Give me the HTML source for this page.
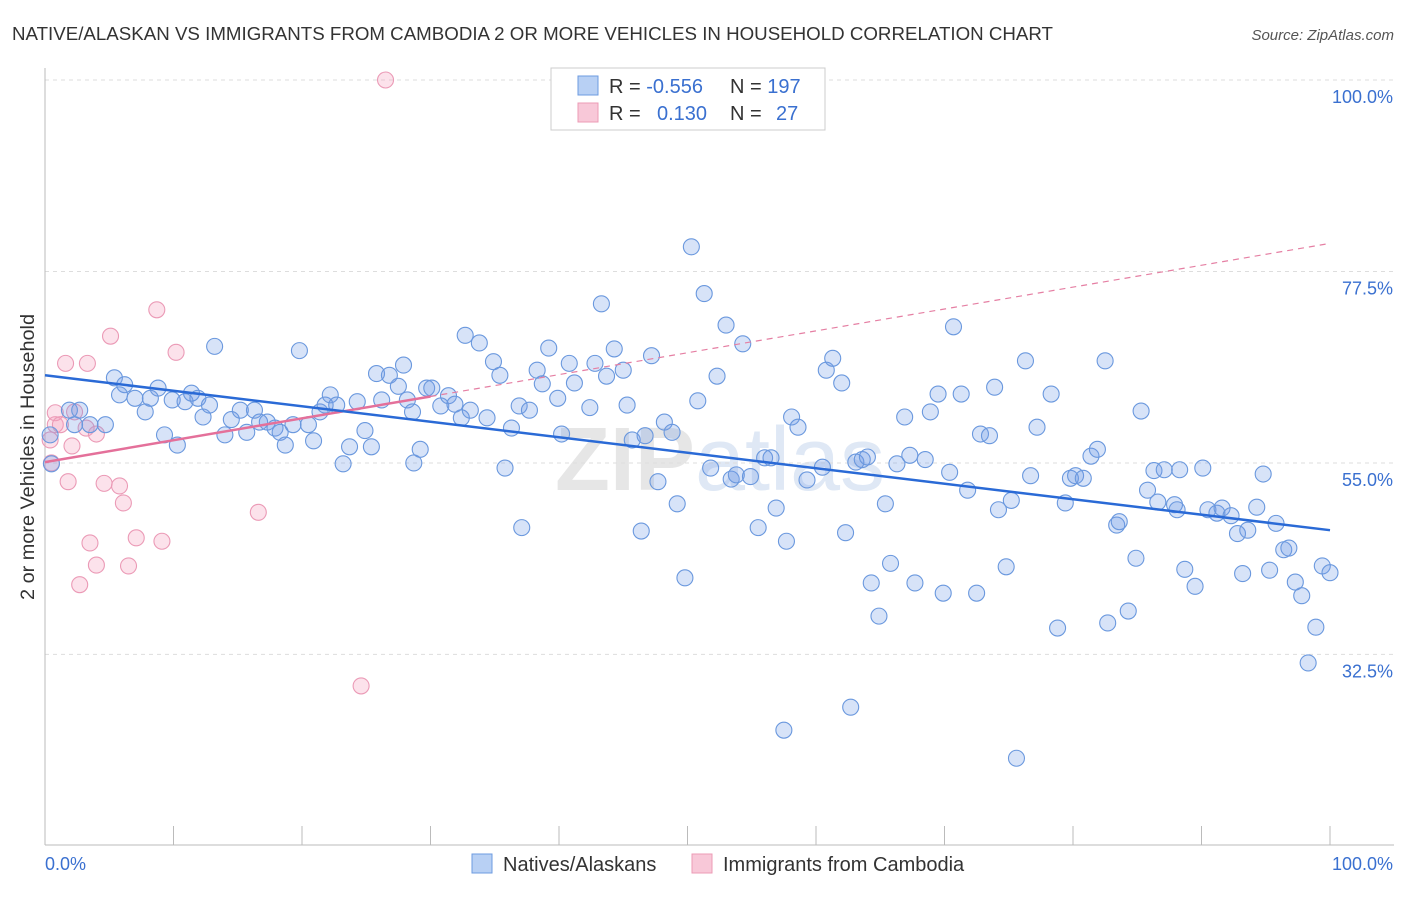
<!DOCTYPE html>
<html><head><meta charset="utf-8"><style>
body{margin:0;background:#fff;font-family:"Liberation Sans",sans-serif;}
svg text{font-family:"Liberation Sans",sans-serif;}
</style></head><body>
<svg id="chart" width="1406" height="892" xmlns="http://www.w3.org/2000/svg">
<text x="12" y="40" font-size="18.5" fill="#333" textLength="1041" lengthAdjust="spacingAndGlyphs">NATIVE/ALASKAN VS IMMIGRANTS FROM CAMBODIA 2 OR MORE VEHICLES IN HOUSEHOLD CORRELATION CHART</text>
<text x="1394" y="40" font-size="15" fill="#555" text-anchor="end" font-style="italic">Source: ZipAtlas.com</text>
<text x="720" y="490" font-size="90" fill="#e6e6e6" text-anchor="middle" font-weight="bold">ZIP<tspan fill="#dfe8f5" font-weight="normal">atlas</tspan></text>
<g id="grid"></g>
<g id="axes"></g>
<g id="marks"></g>
<text transform="translate(34,457) rotate(-90)" font-size="19" fill="#333" text-anchor="middle" textLength="286" lengthAdjust="spacingAndGlyphs">2 or more Vehicles in Household</text>
<g>
<rect x="551" y="68" width="274" height="62" fill="#fff" stroke="#ccc"/>
<rect x="578" y="76" width="20" height="19" fill="#b8d0f4" stroke="#6d9be0"/>
<rect x="578" y="103" width="20" height="19" fill="#f8c8d8" stroke="#ec9bb6"/>
<text x="609" y="93" font-size="20" fill="#333">R = <tspan fill="#3a70d0">-0.556</tspan><tspan x="730">N = </tspan><tspan fill="#3a70d0">197</tspan></text>
<text x="609" y="120" font-size="20" fill="#333">R = <tspan x="657" fill="#3a70d0">0.130</tspan><tspan x="730">N = </tspan><tspan x="776" fill="#3a70d0">27</tspan></text>
</g>
<g>
<rect x="472" y="854" width="20" height="19" fill="#b8d0f4" stroke="#6d9be0"/>
<text x="503" y="871" font-size="20" fill="#333">Natives/Alaskans</text>
<rect x="692" y="854" width="20" height="19" fill="#f8c8d8" stroke="#ec9bb6"/>
<text x="723" y="871" font-size="20" fill="#333">Immigrants from Cambodia</text>
</g>
</svg>
<script>
const yTicks=[100,77.5,55,32.5];
const yTickLabels=["100.0%","77.5%","55.0%","32.5%"];
const nx=[1.9,2.7,2.3,3.5,4.7,5.4,6.2,5.8,7.0,7.8,8.2,8.8,9.3,10.3,9.9,10.9,11.4,11.9,12.3,12.8,13.2,14.0,14.5,15.2,15.7,16.3,16.7,17.3,17.9,18.3,18.7,19.3,19.8,20.5,20.9,21.4,21.8,22.2,22.7,23.2,23.7,24.3,24.9,25.4,25.8,26.2,26.8,27.5,27.9,28.2,28.6,28.7,29.2,29.7,30.1,30.8,31.4,31.9,32.4,32.7,33.1,33.8,34.4,34.9,35.4,35.8,36.3,36.9,37.1,37.7,38.3,38.7,39.2,39.9,40.2,40.8,41.2,42.4,42.8,43.3,43.7,44.3,45.0,45.3,45.7,46.4,46.7,47.2,47.7,48.2,48.8,49.2,49.8,50.3,50.8,51.3,51.8,52.3,53.0,53.4,53.8,54.3,54.9,55.5,56.0,56.5,56.9,57.7,58.1,58.6,59.3,60.5,60.8,61.3,62.0,62.3,62.7,63.1,63.6,64.0,64.3,64.9,65.4,65.8,66.3,66.9,67.3,67.7,68.5,68.9,69.5,69.9,70.4,70.7,71.3,71.8,72.5,72.8,73.5,73.9,74.2,74.8,75.2,76.3,76.7,77.2,78.3,78.8,79.4,79.8,80.2,80.8,81.4,81.9,82.5,82.7,83.4,83.6,84.3,84.9,85.3,85.8,86.3,86.6,87.1,87.9,88.3,88.7,89.5,90.1,90.5,91.2,91.6,92.3,92.8,93.6,93.2,94.3,94.8,95.3,95.8,96.4,96.8,97.3,97.8,98.3,98.9,99.4,100,57.5,75.6,88.1,0.5,0.4];
const ny=[61.2,61.2,59.5,59.5,59.5,65.0,64.2,63.0,62.6,61.0,62.6,63.8,58.3,57.1,62.4,62.2,63.2,62.6,60.4,61.8,68.7,58.3,60.1,61.2,58.6,61.2,59.8,59.8,59.1,58.6,57.1,59.5,68.2,59.5,57.6,61.0,61.8,63.0,61.8,54.9,56.9,62.2,58.8,56.9,65.5,62.4,65.3,64.0,66.5,62.4,61.0,55.0,56.6,63.8,63.8,61.7,62.9,61.9,60.3,70.0,61.2,69.1,60.3,66.9,65.3,54.4,59.1,61.7,47.4,61.2,65.9,64.3,68.5,62.6,58.4,66.7,64.4,61.5,66.7,73.7,65.2,68.4,65.9,61.8,57.7,47.0,58.2,67.6,52.8,59.8,58.6,50.2,41.5,80.4,62.3,74.9,54.4,65.2,71.2,53.1,53.6,69.0,53.4,47.4,55.6,55.6,49.7,45.8,60.4,59.2,53.0,54.5,65.9,67.3,64.4,46.8,26.3,55.1,55.4,55.7,40.9,37.0,50.2,43.2,54.9,60.4,55.9,40.9,55.4,61.0,63.1,39.7,53.9,71.0,63.1,51.8,39.7,58.4,58.2,63.9,49.5,42.8,50.6,67.0,53.5,59.2,63.1,35.6,50.3,53.2,53.5,53.2,55.8,56.6,67.0,36.2,47.7,48.1,37.6,43.8,61.1,51.8,54.1,50.4,54.2,50.1,54.2,42.5,40.5,54.4,49.5,49.1,49.7,48.8,46.7,47.1,42.0,49.8,53.7,42.4,47.9,44.8,45.0,41.0,39.4,31.5,35.7,42.9,42.1,23.6,20.3,49.5,54.9,58.3];
const cx=[26.5,0.8,0.8,1.2,2.1,1.8,1.6,3.3,2.7,3.2,3.5,4.0,4.0,4.6,5.1,5.8,6.1,6.5,7.1,8.7,9.1,10.2,16.6,24.6,0.4,0.5,2.3];
const cy=[100,59.5,60.9,59.5,57.0,52.8,66.7,66.7,40.7,59.1,45.6,58.4,43.0,52.6,69.9,52.3,50.3,42.9,46.2,73.0,45.8,68.0,49.2,28.8,57.7,55.0,61.0];
const nativesTrend=[65.3,47.1];
const cambodiaTrend=[55.1,80.8];
const cambodiaSolidEnd=30;

const NS="http://www.w3.org/2000/svg";
const X=v=>45+v*12.85;
const Y=v=>80+(100-v)*8.51;
function mk(p,tag,a){const e=document.createElementNS(NS,tag);for(const k in a)e.setAttribute(k,a[k]);p.appendChild(e);return e;}
const grid=document.getElementById('grid'),axes=document.getElementById('axes'),marks=document.getElementById('marks');
yTicks.forEach((t,i)=>{
 const l=mk(grid,'line',{x1:45,x2:1394,y1:Y(t),y2:Y(t),stroke:'#ddd','stroke-dasharray':'4,4'});
 
 
 const tx=mk(axes,'text',{x:1393,y:Y(t)+23,'font-size':18,fill:'#3a70d0','text-anchor':'end'});
 tx.textContent=yTickLabels[i];
 
 
});
const ax=mk(axes,'line',{x1:45,x2:1394,y1:845,y2:845,stroke:'#bbb'});


const ay=mk(axes,'line',{x1:45,x2:45,y1:68,y2:845,stroke:'#bbb'});


for(let i=0;i<=10;i++){const t=mk(axes,'line',{x1:X(i*10),x2:X(i*10),y1:826,y2:845,stroke:'#bbb'});
 
 }
const x0=mk(axes,'text',{x:45,y:870,'font-size':18,fill:'#3a70d0'});x0.textContent='0.0%';


const x1=mk(axes,'text',{x:1393,y:870,'font-size':18,fill:'#3a70d0','text-anchor':'end'});x1.textContent='100.0%';


cx.forEach((v,i)=>{const c=mk(marks,'circle',{cx:X(v),cy:Y(cy[i]),r:8,fill:'rgba(244,160,190,0.3)',stroke:'#eb9ab6','stroke-width':1.1});
 
 });
nx.forEach((v,i)=>{const c=mk(marks,'circle',{cx:X(v),cy:Y(ny[i]),r:8,fill:'rgba(110,155,230,0.28)',stroke:'#6a98de','stroke-width':1.1});
 
 });
const cAt=x=>cambodiaTrend[0]+(cambodiaTrend[1]-cambodiaTrend[0])*x/100;
const pd=mk(marks,'line',{x1:X(cambodiaSolidEnd),y1:Y(cAt(cambodiaSolidEnd)),x2:X(100),y2:Y(cAt(100)),stroke:'#e57fa3','stroke-width':1.2,'stroke-dasharray':'6,5'});


const ps=mk(marks,'line',{x1:X(0),y1:Y(cAt(0)),x2:X(cambodiaSolidEnd),y2:Y(cAt(cambodiaSolidEnd)),stroke:'#e4709a','stroke-width':2.5});


const bl=mk(marks,'line',{x1:X(0),y1:Y(nativesTrend[0]),x2:X(100),y2:Y(nativesTrend[1]),stroke:'#2a6ad6','stroke-width':2.5});


</script>
</body></html>
